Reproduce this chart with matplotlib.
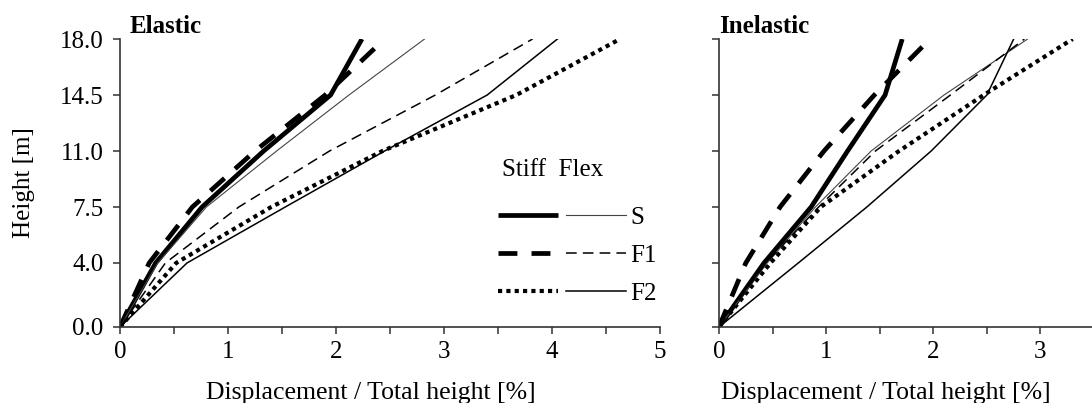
import matplotlib.pyplot as plt
from matplotlib.ticker import MultipleLocator, FormatStrFormatter

plt.rcParams['font.family'] = ['Liberation Serif', 'DejaVu Serif']
plt.rcParams['font.size'] = 18

heights = [0.0, 4.0, 7.5, 11.0, 14.5, 18.0]

# elastic analysis, drift [%] at each floor level
el_stiff_s = [0, 0.33, 0.76, 1.33, 1.95, 2.24]
el_stiff_f1 = [0, 0.27, 0.67, 1.25, 1.90, 2.45]
el_stiff_f2 = [0, 0.52, 1.40, 2.43, 3.67, 4.63]
el_flex_s = [0, 0.35, 0.80, 1.45, 2.12, 2.82]
el_flex_f1 = [0, 0.42, 1.10, 1.94, 2.92, 3.82]
el_flex_f2 = [0, 0.62, 1.53, 2.45, 3.40, 4.05]

# inelastic analysis
in_stiff_s = [0, 0.42, 0.86, 1.20, 1.55, 1.71]
in_stiff_f1 = [0, 0.25, 0.57, 0.98, 1.45, 1.97]
in_stiff_f2 = [0, 0.48, 0.95, 1.68, 2.47, 3.30]
in_flex_s = [0, 0.45, 0.90, 1.42, 2.10, 2.88]
in_flex_f1 = [0, 0.44, 0.93, 1.46, 2.16, 2.85]
in_flex_f2 = [0, 0.74, 1.38, 1.98, 2.50, 2.75]

thick_s = dict(color='black', lw=3.4, ls='-', solid_capstyle='butt')
thick_f1 = dict(color='black', lw=3.4, ls=(0, (4, 3)), dash_capstyle='butt')
thick_f2 = dict(color='black', lw=3.0, ls=(0, (1, 1)), dash_capstyle='butt')
thin_s = dict(color='#444444', lw=0.8, ls='-')
thin_f1 = dict(color='black', lw=1.1, ls=(0, (7, 4)))
thin_f2 = dict(color='black', lw=1.1, ls='-')


def draw_panel(ax, data, title, title_x, xmax, label_x):
    hs = []
    for x, st in zip(data, [thick_s, thick_f1, thick_f2, thin_s, thin_f1, thin_f2]):
        h, = ax.plot(x, heights, **st)
        hs.append(h)
    ax.set_xlim(0, xmax)
    ax.set_ylim(0, 18)
    ax.spines['top'].set_visible(False)
    ax.spines['right'].set_visible(False)
    for sp in ['left', 'bottom']:
        ax.spines[sp].set_linewidth(1.2)
        ax.spines[sp].set_color('#333333')
    ax.set_yticks(heights)
    ax.yaxis.set_major_formatter(FormatStrFormatter('%.1f'))
    ax.xaxis.set_major_locator(MultipleLocator(1))
    ax.xaxis.set_minor_locator(MultipleLocator(0.5))
    ax.tick_params(which='both', direction='out', length=5, width=1.1, color='#333333')
    ax.tick_params(axis='x', pad=5)
    ax.tick_params(axis='y', pad=7)
    ax.set_xlabel('Displacement / Total height [%]', fontsize=18.5)
    ax.xaxis.set_label_coords(label_x, -0.19)
    ax.text(title_x, 1.005, title, transform=ax.transAxes, fontweight='bold',
            fontsize=18, ha='left', va='bottom')
    return hs


fig = plt.figure(figsize=(10.92, 4.03), dpi=100)
ax1 = fig.add_axes([0.1099, 0.1886, 0.4945, 0.7146])
ax2 = fig.add_axes([0.6584, 0.1886, 0.3425, 0.7146])

hs = draw_panel(ax1, [el_stiff_s, el_stiff_f1, el_stiff_f2, el_flex_s, el_flex_f1, el_flex_f2],
                'Elastic', 0.018, 5, 0.465)
draw_panel(ax2, [in_stiff_s, in_stiff_f1, in_stiff_f2, in_flex_s, in_flex_f1, in_flex_f2],
           'Inelastic', 0.0, 3.49, 0.447)
ax2.set_yticklabels([])

ax1.set_ylabel('Height [m]', labelpad=18)

# legend: thick = stiff, thin = flexible
ax1.text(0.707, 0.545, 'Stiff  Flex', transform=ax1.transAxes, ha='left', va='center')
ax1.legend(hs, ['', '', '', 'S', 'F1', 'F2'], ncol=2, frameon=False,
           loc='upper left', bbox_to_anchor=(0.677, 0.463), borderpad=0,
           handlelength=2.4, handletextpad=0.2, columnspacing=0.1,
           labelspacing=0.62)

fig.savefig('out.png', dpi=100)
